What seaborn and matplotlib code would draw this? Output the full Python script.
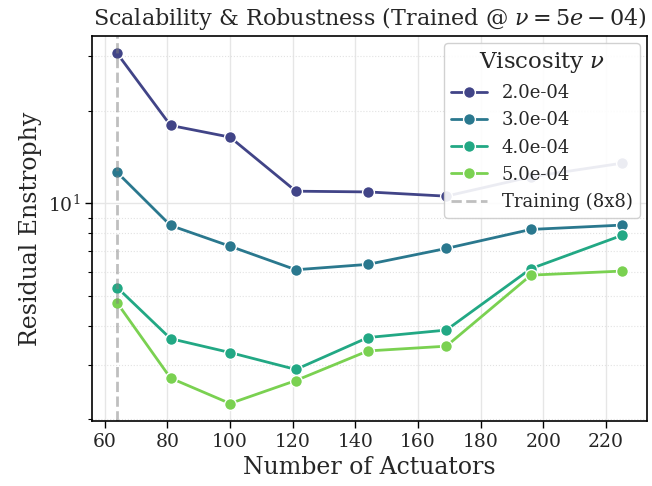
import matplotlib
matplotlib.use("Agg")
import matplotlib.pyplot as plt
import seaborn as sns
import pandas as pd

# Actuator counts (square grids 8x8 ... 15x15)
actuators = [64, 81, 100, 121, 144, 169, 196, 225]

# Residual enstrophy per viscosity
visc_labels = ["2.0e-04", "3.0e-04", "4.0e-04", "5.0e-04"]
ens_2e4 = [30.6, 17.9, 16.4, 10.96, 10.9, 10.56, 12.2, 13.5]
ens_3e4 = [12.6, 8.49, 7.27, 6.10, 6.35, 7.15, 8.24, 8.51]
ens_4e4 = [5.34, 3.65, 3.29, 2.90, 3.68, 3.89, 6.15, 7.88]
ens_5e4 = [4.76, 2.72, 2.25, 2.67, 3.33, 3.45, 5.86, 6.04]
train_nu = 5e-4
train_actuators = 64

rows = []
for lab, vals in zip(visc_labels, [ens_2e4, ens_3e4, ens_4e4, ens_5e4]):
    for n, v in zip(actuators, vals):
        rows.append({"Actuators": n, "Enstrophy": v, "Viscosity": lab})
df = pd.DataFrame(rows)

sns.set_theme(style="whitegrid")
plt.rcParams["font.family"] = ["DejaVu Serif"]
plt.rcParams["mathtext.fontset"] = "dejavuserif"

fig = plt.figure(figsize=(6.52, 4.86), dpi=100)
ax = fig.add_axes([92 / 652, 65 / 486, 555 / 652, 385 / 486])

palette = sns.color_palette("viridis", len(visc_labels))
sns.lineplot(data=df, x="Actuators", y="Enstrophy", hue="Viscosity",
             hue_order=visc_labels, palette=palette, marker="o",
             markersize=8.5, markeredgecolor="white", markeredgewidth=1,
             linewidth=2, ax=ax)
ax.set_yscale("log")
ax.axvline(train_actuators, color="gray", linestyle="--", linewidth=2,
           alpha=0.5, label="Training (8x8)")

ax.set_title(f"Scalability & Robustness (Trained @ $\\nu={train_nu:.0e}$)",
             fontsize=16, pad=8)
ax.set_xlabel("Number of Actuators", fontsize=17)
ax.set_ylabel("Residual Enstrophy", fontsize=17)
ax.tick_params(axis="both", which="major", labelsize=13.5, length=5,
               width=1, color="black", bottom=True, left=True)
ax.tick_params(axis="y", which="minor", length=3, width=0.8,
               color="black", left=True)
for s in ax.spines.values():
    s.set_color("black")
    s.set_linewidth(1.2)

ax.grid(which="major", color="#e6e6e6", linewidth=1)
ax.grid(which="minor", axis="y", color="#e2e2e2", linestyle=":",
        linewidth=0.8)

handles, labels = ax.get_legend_handles_labels()
leg = ax.legend(handles, labels, title="Viscosity $\\nu$", loc="upper right",
                fontsize=13, title_fontsize=16.5, framealpha=0.9,
                borderaxespad=0.4)

fig.savefig("out.png", dpi=100)
